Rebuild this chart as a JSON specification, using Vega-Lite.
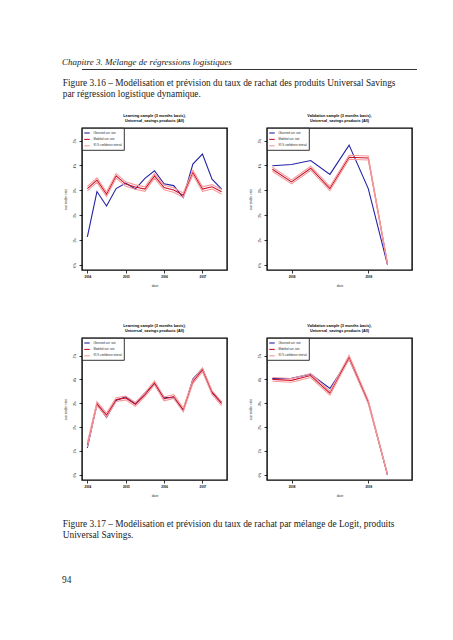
{
  "$schema": "https://vega.github.io/schema/vega-lite/v6.json",
  "padding": {"left": 62, "top": 58, "right": 5, "bottom": 5},
  "background": "white",
  "config": {
    "view": {"stroke": "black", "strokeWidth": 1.4},
    "axis": {"domain": false, "grid": false, "tickColor": "black", "tickSize": 3, "tickWidth": 0.8, "labelFont": "Liberation Sans", "labelFontSize": 3, "labelColor": "black", "labelPadding": 2.5, "titleFont": "Liberation Sans", "titleFontSize": 3.4, "titleFontWeight": "normal", "titleColor": "#333"},
    "axisX": {"labelFontWeight": "bold", "titlePadding": 5},
    "axisY": {"labelAngle": 270, "labelAlign": "center", "labelBaseline": "bottom", "titlePadding": 6},
    "legend": {"orient": "top-left", "offset": 0, "strokeColor": "black", "strokeWidth": 0.8, "fillColor": "white", "padding": 1.5, "labelFont": "Liberation Sans", "labelFontSize": 2.6, "labelColor": "#222", "symbolType": "stroke", "symbolSize": 30, "symbolStrokeWidth": 1.3, "rowPadding": 0.4, "labelOffset": 3, "labelLimit": 200},
    "title": {"font": "Liberation Sans", "fontWeight": "bold", "fontSize": 3.8, "lineHeight": 5, "offset": 5, "anchor": "middle", "frame": "group", "color": "black"},
    "line": {"strokeWidth": 1.1}
  },
  "datasets": {
    "keys": [
      {"line": "obs", "k": "Observed surr. rate"},
      {"line": "mod", "k": "Modeled surr. rate"},
      {"line": "lo", "k": "95 % confidence interval"},
      {"line": "hi", "k": "95 % confidence interval"}
    ],
    "p1": [
      {"date": 2004.00, "obs": 1.12, "mod": 3.07, "lo": 2.98, "hi": 3.16},
      {"date": 2004.25, "obs": 2.95, "mod": 3.41, "lo": 3.32, "hi": 3.50},
      {"date": 2004.50, "obs": 2.37, "mod": 2.84, "lo": 2.75, "hi": 2.93},
      {"date": 2004.75, "obs": 3.07, "mod": 3.58, "lo": 3.49, "hi": 3.67},
      {"date": 2005.00, "obs": 3.29, "mod": 3.25, "lo": 3.16, "hi": 3.34},
      {"date": 2005.25, "obs": 3.05, "mod": 3.13, "lo": 3.04, "hi": 3.22},
      {"date": 2005.50, "obs": 3.48, "mod": 3.05, "lo": 2.96, "hi": 3.14},
      {"date": 2005.75, "obs": 3.79, "mod": 3.58, "lo": 3.49, "hi": 3.67},
      {"date": 2006.00, "obs": 3.26, "mod": 3.11, "lo": 3.02, "hi": 3.20},
      {"date": 2006.25, "obs": 3.19, "mod": 3.01, "lo": 2.92, "hi": 3.10},
      {"date": 2006.50, "obs": 2.71, "mod": 2.80, "lo": 2.71, "hi": 2.89},
      {"date": 2006.75, "obs": 4.06, "mod": 3.72, "lo": 3.63, "hi": 3.81},
      {"date": 2007.00, "obs": 4.46, "mod": 3.05, "lo": 2.96, "hi": 3.14},
      {"date": 2007.25, "obs": 3.45, "mod": 3.14, "lo": 3.05, "hi": 3.23},
      {"date": 2007.50, "obs": 3.05, "mod": 2.94, "lo": 2.85, "hi": 3.03}
    ],
    "p2": [
      {"date": 2007.75, "obs": 3.99, "mod": 3.85, "lo": 3.77, "hi": 3.93},
      {"date": 2008.00, "obs": 4.04, "mod": 3.34, "lo": 3.26, "hi": 3.42},
      {"date": 2008.25, "obs": 4.20, "mod": 3.89, "lo": 3.81, "hi": 3.97},
      {"date": 2008.50, "obs": 3.64, "mod": 3.07, "lo": 2.99, "hi": 3.15},
      {"date": 2008.75, "obs": 4.82, "mod": 4.33, "lo": 4.25, "hi": 4.41},
      {"date": 2009.00, "obs": 3.07, "mod": 4.30, "lo": 4.22, "hi": 4.38},
      {"date": 2009.25, "obs": 0.01, "mod": 0.04, "lo": 0.02, "hi": 0.06}
    ],
    "p3": [
      {"date": 2004.00, "obs": 1.12, "mod": 1.25, "lo": 1.16, "hi": 1.34},
      {"date": 2004.25, "obs": 2.97, "mod": 2.98, "lo": 2.90, "hi": 3.06},
      {"date": 2004.50, "obs": 2.40, "mod": 2.50, "lo": 2.42, "hi": 2.58},
      {"date": 2004.75, "obs": 3.11, "mod": 3.15, "lo": 3.07, "hi": 3.23},
      {"date": 2005.00, "obs": 3.27, "mod": 3.22, "lo": 3.14, "hi": 3.30},
      {"date": 2005.25, "obs": 2.98, "mod": 2.95, "lo": 2.87, "hi": 3.03},
      {"date": 2005.50, "obs": 3.42, "mod": 3.35, "lo": 3.27, "hi": 3.43},
      {"date": 2005.75, "obs": 3.82, "mod": 3.85, "lo": 3.77, "hi": 3.93},
      {"date": 2006.00, "obs": 3.25, "mod": 3.18, "lo": 3.10, "hi": 3.26},
      {"date": 2006.25, "obs": 3.22, "mod": 3.28, "lo": 3.20, "hi": 3.36},
      {"date": 2006.50, "obs": 2.70, "mod": 2.72, "lo": 2.64, "hi": 2.80},
      {"date": 2006.75, "obs": 4.01, "mod": 3.90, "lo": 3.82, "hi": 3.98},
      {"date": 2007.00, "obs": 4.46, "mod": 4.40, "lo": 4.32, "hi": 4.48},
      {"date": 2007.25, "obs": 3.45, "mod": 3.45, "lo": 3.37, "hi": 3.53},
      {"date": 2007.50, "obs": 3.04, "mod": 2.98, "lo": 2.90, "hi": 3.06}
    ],
    "p4": [
      {"date": 2007.75, "obs": 4.03, "mod": 4.00, "lo": 3.92, "hi": 4.08},
      {"date": 2008.00, "obs": 4.05, "mod": 3.96, "lo": 3.88, "hi": 4.04},
      {"date": 2008.25, "obs": 4.22, "mod": 4.16, "lo": 4.08, "hi": 4.24},
      {"date": 2008.50, "obs": 3.62, "mod": 3.42, "lo": 3.34, "hi": 3.50},
      {"date": 2008.75, "obs": 4.86, "mod": 4.93, "lo": 4.85, "hi": 5.01},
      {"date": 2009.00, "obs": 3.05, "mod": 3.05, "lo": 2.97, "hi": 3.13},
      {"date": 2009.25, "obs": 0.00, "mod": 0.00, "lo": 0.00, "hi": 0.03}
    ]
  },
  "title": {"text": "Chapitre 3.  Mélange de régressions logistiques", "font": "Liberation Serif", "fontStyle": "italic", "fontWeight": "normal", "fontSize": 9, "anchor": "start", "frame": "bounds", "offset": 2, "color": "#222"},
  "resolve": {"scale": {"color": "independent"}, "legend": {"color": "independent"}},
  "spacing": 8,
  "vconcat": [
    {
      "width": 335, "height": 1,
      "view": {"stroke": null, "fill": "#333"},
      "data": {"values": []},
      "mark": "point",
      "encoding": {}
    },
    {
      "spacing": 35,
      "resolve": {"scale": {"color": "independent"}, "legend": {"color": "independent"}},
      "vconcat": [
        {
          "spacing": 19,
          "resolve": {"scale": {"color": "independent"}, "legend": {"color": "independent"}},
          "title": {"text": ["Figure 3.16 – Modélisation et prévision du taux de rachat des produits Universal Savings", "par régression logistique dynamique."], "orient": "top", "anchor": "start", "frame": "bounds", "font": "Liberation Serif", "fontWeight": "normal", "fontSize": 9.35, "lineHeight": 11, "offset": 14, "color": "#222"},
          "hconcat": [
            {
              "width": 145, "height": 142,
              "title": {"text": ["Learning sample (3 months basis),", "Universal_savings products (All)"]},
              "data": {"name": "p1"},
              "transform": [
                {"fold": ["obs", "mod", "lo", "hi"], "as": ["line", "value"]},
                {"lookup": "line", "from": {"data": {"name": "keys"}, "key": "line", "fields": ["k"]}}
              ],
              "mark": "line",
              "encoding": {
                "x": {"field": "date", "type": "quantitative", "scale": {"domain": [2003.86, 2007.64], "nice": false, "zero": false}, "axis": {"values": [2004, 2005, 2006, 2007], "format": "d", "title": "date"}},
                "y": {"field": "value", "type": "quantitative", "scale": {"domain": [-0.21, 5.51], "nice": false}, "axis": {"values": [0, 1, 2, 3, 4, 5], "labelExpr": "datum.value + '%'", "title": "surrender rate"}},
                "color": {"field": "k", "type": "nominal", "scale": {"domain": ["Observed surr. rate", "Modeled surr. rate", "95 % confidence interval"], "range": ["#2323a6", "#d0102a", "#f49a9a"]}, "legend": {"title": null}},
                "detail": {"field": "line"}
              }
            },
            {
              "width": 145, "height": 142,
              "title": {"text": ["Validation sample (3 months basis),", "Universal_savings products (All)"]},
              "data": {"name": "p2"},
              "transform": [
                {"fold": ["obs", "mod", "lo", "hi"], "as": ["line", "value"]},
                {"lookup": "line", "from": {"data": {"name": "keys"}, "key": "line", "fields": ["k"]}}
              ],
              "mark": "line",
              "encoding": {
                "x": {"field": "date", "type": "quantitative", "scale": {"domain": [2007.68, 2009.57], "nice": false, "zero": false}, "axis": {"values": [2008, 2009], "format": "d", "title": "date"}},
                "y": {"field": "value", "type": "quantitative", "scale": {"domain": [-0.21, 5.51], "nice": false}, "axis": {"values": [0, 1, 2, 3, 4, 5], "labelExpr": "datum.value + '%'", "title": "surrender rate"}},
                "color": {"field": "k", "type": "nominal", "scale": {"domain": ["Observed surr. rate", "Modeled surr. rate", "95 % confidence interval"], "range": ["#2323a6", "#d0102a", "#f49a9a"]}, "legend": {"title": null}},
                "detail": {"field": "line"}
              }
            }
          ]
        },
        {
          "spacing": 19,
          "resolve": {"scale": {"color": "independent"}, "legend": {"color": "independent"}},
          "title": {"text": ["Figure 3.17 – Modélisation et prévision du taux de rachat par mélange de Logit, produits", "Universal Savings."], "orient": "bottom", "anchor": "start", "frame": "bounds", "font": "Liberation Serif", "fontWeight": "normal", "fontSize": 9.35, "lineHeight": 11, "offset": 22, "color": "#222"},
          "hconcat": [
            {
              "width": 145, "height": 142,
              "title": {"text": ["Learning sample (3 months basis),", "Universal_savings products (All)"]},
              "data": {"name": "p3"},
              "transform": [
                {"fold": ["obs", "mod", "lo", "hi"], "as": ["line", "value"]},
                {"lookup": "line", "from": {"data": {"name": "keys"}, "key": "line", "fields": ["k"]}}
              ],
              "mark": "line",
              "encoding": {
                "x": {"field": "date", "type": "quantitative", "scale": {"domain": [2003.86, 2007.64], "nice": false, "zero": false}, "axis": {"values": [2004, 2005, 2006, 2007], "format": "d", "title": "date"}},
                "y": {"field": "value", "type": "quantitative", "scale": {"domain": [-0.23, 5.74], "nice": false}, "axis": {"values": [0, 1, 2, 3, 4, 5], "labelExpr": "datum.value + '%'", "title": "surrender rate"}},
                "color": {"field": "k", "type": "nominal", "scale": {"domain": ["Observed surr. rate", "Modeled surr. rate", "95 % confidence interval"], "range": ["#2323a6", "#d0102a", "#f49a9a"]}, "legend": {"title": null}},
                "detail": {"field": "line"}
              }
            },
            {
              "width": 145, "height": 142,
              "title": {"text": ["Validation sample (3 months basis),", "Universal_savings products (All)"]},
              "data": {"name": "p4"},
              "transform": [
                {"fold": ["obs", "mod", "lo", "hi"], "as": ["line", "value"]},
                {"lookup": "line", "from": {"data": {"name": "keys"}, "key": "line", "fields": ["k"]}}
              ],
              "mark": "line",
              "encoding": {
                "x": {"field": "date", "type": "quantitative", "scale": {"domain": [2007.68, 2009.57], "nice": false, "zero": false}, "axis": {"values": [2008, 2009], "format": "d", "title": "date"}},
                "y": {"field": "value", "type": "quantitative", "scale": {"domain": [-0.23, 5.74], "nice": false}, "axis": {"values": [0, 1, 2, 3, 4, 5], "labelExpr": "datum.value + '%'", "title": "surrender rate"}},
                "color": {"field": "k", "type": "nominal", "scale": {"domain": ["Observed surr. rate", "Modeled surr. rate", "95 % confidence interval"], "range": ["#2323a6", "#d0102a", "#f49a9a"]}, "legend": {"title": null}},
                "detail": {"field": "line"}
              }
            }
          ]
        },
        {
          "width": 20, "height": 1,
          "view": {"stroke": null, "fill": null},
          "title": {"text": "94", "orient": "top", "anchor": "start", "frame": "group", "dx": -20, "font": "Liberation Serif", "fontWeight": "normal", "fontSize": 9.35, "offset": 0, "color": "#222"},
          "data": {"values": []},
          "mark": "point",
          "encoding": {}
        }
      ]
    }
  ]
}
